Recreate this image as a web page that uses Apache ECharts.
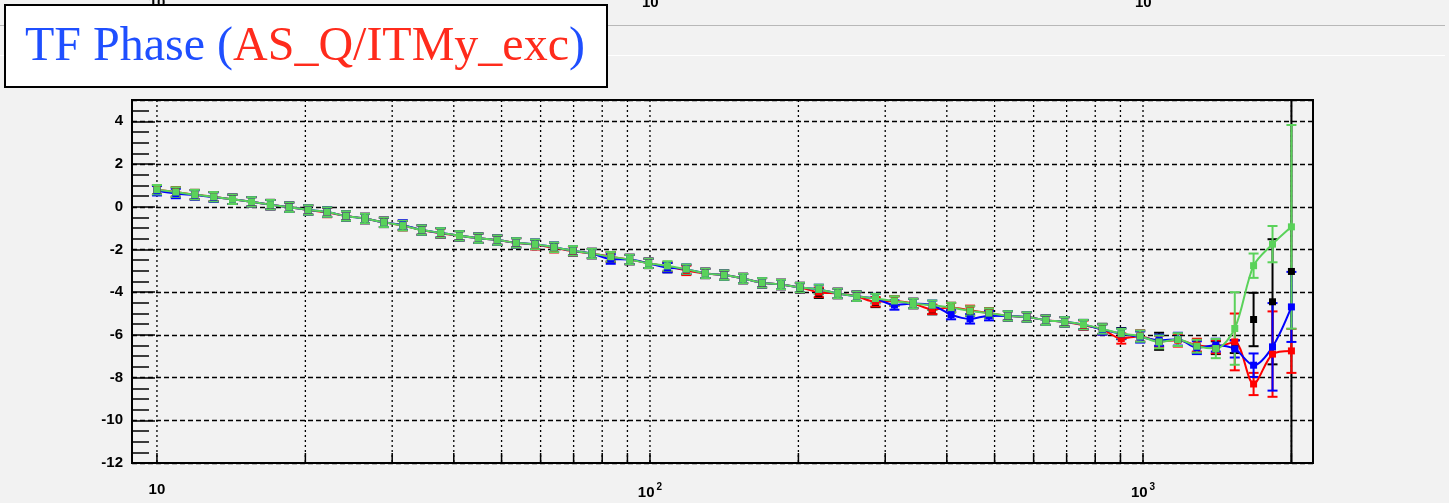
<!DOCTYPE html>
<html>
<head>
<meta charset="utf-8">
<title>TF Phase</title>
<script src="https://cdn.jsdelivr.net/npm/echarts@6/dist/echarts.min.js"></script>
<style>
html, body { margin: 0; padding: 0; background: #f2f2f2; }
#chart { width: 1449px; height: 503px; }
</style>
</head>
<body>
<div id="chart"></div>
<script>
// frequency points (Hz), log spaced
var freqs = [10.0, 10.92, 11.93, 13.03, 14.23, 15.55, 16.99, 18.55, 20.27, 22.14,
  24.18, 26.42, 28.86, 31.52, 34.43, 37.61, 41.08, 44.87, 49.02, 53.54,
  58.48, 63.89, 69.79, 76.22, 83.26, 90.94, 99.34, 108.5, 118.5, 129.5,
  141.4, 154.5, 168.8, 184.4, 201.4, 220.0, 240.3, 262.5, 286.7, 313.2,
  342.0, 373.7, 408.1, 445.9, 487.1, 532.0, 581.1, 634.8, 693.4, 757.3,
  827.1, 903.5, 986.8, 1078, 1177, 1286, 1405, 1535, 1676, 1831, 2000];

var phaseBlack = [0.80, 0.69, 0.57, 0.47, 0.35, 0.23, 0.10, -0.02, -0.15, -0.25,
  -0.43, -0.55, -0.73, -0.88, -1.09, -1.22, -1.36, -1.47, -1.56, -1.69,
  -1.76, -1.90, -2.06, -2.19, -2.36, -2.47, -2.65, -2.85, -2.94, -3.12,
  -3.20, -3.36, -3.56, -3.64, -3.80, -4.05, -4.06, -4.19, -4.48, -4.41,
  -4.53, -4.82, -4.72, -4.88, -4.98, -5.11, -5.16, -5.31, -5.39, -5.52,
  -5.72, -5.94, -6.06, -6.30, -6.22, -6.53, -6.60, -6.55, -5.28, -4.45, -3.03];
var phaseRed = [0.80, 0.69, 0.57, 0.47, 0.35, 0.23, 0.10, -0.02, -0.15, -0.27,
  -0.43, -0.55, -0.73, -0.88, -1.09, -1.24, -1.36, -1.47, -1.56, -1.69,
  -1.78, -1.92, -2.08, -2.19, -2.34, -2.47, -2.65, -2.80, -2.98, -3.12,
  -3.20, -3.36, -3.56, -3.64, -3.78, -4.00, -4.06, -4.19, -4.45, -4.41,
  -4.53, -4.80, -4.72, -4.85, -4.98, -5.11, -5.16, -5.31, -5.39, -5.55,
  -5.74, -6.17, -6.06, -6.30, -6.25, -6.48, -6.56, -6.33, -8.30, -6.90, -6.75];
var phaseBlue = [0.75, 0.62, 0.55, 0.45, 0.35, 0.23, 0.10, -0.02, -0.15, -0.25,
  -0.43, -0.55, -0.73, -0.85, -1.09, -1.22, -1.36, -1.47, -1.56, -1.69,
  -1.76, -1.90, -2.06, -2.19, -2.45, -2.47, -2.65, -2.85, -2.92, -3.12,
  -3.20, -3.36, -3.56, -3.64, -3.78, -3.87, -4.06, -4.19, -4.30, -4.60,
  -4.53, -4.61, -5.05, -5.25, -5.10, -5.11, -5.16, -5.31, -5.39, -5.52,
  -5.75, -5.95, -6.10, -6.25, -6.20, -6.60, -6.48, -6.66, -7.42, -6.56, -4.69];
var phaseGreen = [0.80, 0.69, 0.57, 0.47, 0.35, 0.23, 0.10, -0.02, -0.15, -0.25,
  -0.43, -0.55, -0.73, -0.88, -1.09, -1.22, -1.36, -1.47, -1.56, -1.69,
  -1.76, -1.90, -2.06, -2.19, -2.34, -2.47, -2.65, -2.77, -2.92, -3.12,
  -3.20, -3.36, -3.56, -3.64, -3.78, -3.87, -4.06, -4.19, -4.30, -4.41,
  -4.53, -4.61, -4.72, -4.88, -4.98, -5.11, -5.16, -5.31, -5.39, -5.52,
  -5.72, -5.94, -6.06, -6.33, -6.22, -6.53, -6.64, -5.70, -2.76, -1.75, -0.94];

var errBlack = [0.22, 0.22, 0.22, 0.22, 0.22, 0.22, 0.22, 0.22, 0.22, 0.22,
  0.22, 0.22, 0.22, 0.22, 0.22, 0.22, 0.22, 0.22, 0.22, 0.22,
  0.22, 0.22, 0.22, 0.22, 0.22, 0.22, 0.22, 0.22, 0.22, 0.22,
  0.22, 0.22, 0.22, 0.22, 0.22, 0.22, 0.22, 0.22, 0.22, 0.22,
  0.22, 0.22, 0.22, 0.22, 0.22, 0.22, 0.22, 0.22, 0.22, 0.22,
  0.24, 0.26, 0.26, 0.40, 0.30, 0.30, 0.30, 0.30, 1.25, 2.93, 25];
var errRed = [0.22, 0.22, 0.22, 0.22, 0.22, 0.22, 0.22, 0.22, 0.22, 0.22,
  0.22, 0.22, 0.22, 0.22, 0.22, 0.22, 0.22, 0.22, 0.22, 0.22,
  0.22, 0.22, 0.22, 0.22, 0.22, 0.22, 0.22, 0.22, 0.22, 0.22,
  0.22, 0.22, 0.22, 0.22, 0.22, 0.22, 0.22, 0.22, 0.22, 0.22,
  0.22, 0.22, 0.22, 0.22, 0.22, 0.22, 0.22, 0.22, 0.22, 0.22,
  0.24, 0.24, 0.26, 0.26, 0.30, 0.30, 0.30, 1.33, 0.52, 2.00, 1.03];
var errBlue = [0.22, 0.22, 0.22, 0.22, 0.22, 0.22, 0.22, 0.22, 0.22, 0.22,
  0.22, 0.22, 0.22, 0.22, 0.22, 0.22, 0.22, 0.22, 0.22, 0.22,
  0.22, 0.22, 0.22, 0.22, 0.22, 0.22, 0.22, 0.22, 0.22, 0.22,
  0.22, 0.22, 0.22, 0.22, 0.22, 0.22, 0.22, 0.22, 0.22, 0.22,
  0.22, 0.22, 0.22, 0.22, 0.22, 0.22, 0.22, 0.22, 0.22, 0.22,
  0.24, 0.24, 0.26, 0.26, 0.30, 0.30, 0.30, 0.40, 0.55, 2.05, 1.64];
var errGreen = [0.22, 0.22, 0.22, 0.22, 0.22, 0.22, 0.22, 0.22, 0.22, 0.22,
  0.22, 0.22, 0.22, 0.22, 0.22, 0.22, 0.22, 0.22, 0.22, 0.22,
  0.22, 0.22, 0.22, 0.22, 0.22, 0.22, 0.22, 0.22, 0.22, 0.22,
  0.22, 0.22, 0.22, 0.22, 0.22, 0.22, 0.22, 0.22, 0.22, 0.22,
  0.22, 0.22, 0.22, 0.22, 0.22, 0.22, 0.22, 0.22, 0.22, 0.22,
  0.22, 0.22, 0.26, 0.30, 0.30, 0.30, 0.45, 1.70, 0.57, 0.85, 4.77];

// vertical grid lines of the log axis
var gridX = [10, 20, 30, 40, 50, 60, 70, 80, 90, 100, 200, 300, 400, 500, 600, 700, 800, 900, 1000, 2000];

var chart = echarts.init(document.getElementById('chart'));

var sans = 'Liberation Sans, Arial, sans-serif';
var serif = 'Liberation Serif, Times New Roman, serif';

function decadeLabel(v) {
  var p = Math.round(Math.log10(v));
  if (p <= 1) return '{b|10}';
  return '{b|10}{s|' + p + '}';
}
var labelRich = {
  b: { fontFamily: sans, fontWeight: 'bold', fontSize: 15, color: '#000' },
  s: { fontFamily: sans, fontWeight: 'bold', fontSize: 10, color: '#000', padding: [0, 0, 12, 2] }
};

function errorSeries(color, vals, errs) {
  return {
    type: 'custom',
    clip: true,
    data: freqs.map(function (f, i) { return [f, vals[i] - errs[i], vals[i] + errs[i]]; }),
    encode: { x: 0, y: [1, 2] },
    renderItem: function (params, api) {
      var lo = api.coord([api.value(0), api.value(1)]);
      var hi = api.coord([api.value(0), api.value(2)]);
      var w = 5;
      var st = { stroke: color, lineWidth: 2 };
      return {
        type: 'group',
        children: [
          { type: 'line', shape: { x1: lo[0], y1: lo[1], x2: hi[0], y2: hi[1] }, style: st },
          { type: 'line', shape: { x1: lo[0] - w, y1: lo[1], x2: lo[0] + w, y2: lo[1] }, style: st },
          { type: 'line', shape: { x1: hi[0] - w, y1: hi[1], x2: hi[0] + w, y2: hi[1] }, style: st }
        ]
      };
    }
  };
}

function lineSeries(color, vals, showLine) {
  return {
    type: 'line',
    data: freqs.map(function (f, i) { return [f, vals[i]]; }),
    smooth: 0.3,
    symbol: 'rect',
    symbolSize: 7,
    clip: true,
    lineStyle: { color: color, width: 2, opacity: showLine ? 1 : 0 },
    itemStyle: { color: color },
    animation: false
  };
}

var cBlack = '#000000', cRed = '#ff0000', cBlue = '#0000ff', cGreen = '#5ad25a';

chart.setOption({
  backgroundColor: '#f2f2f2',
  animation: false,
  grid: { left: 132, top: 100, width: 1181, height: 363, show: true, borderColor: '#000', borderWidth: 2, backgroundColor: 'transparent' },
  xAxis: {
    type: 'log',
    logBase: 10,
    min: 8.9,
    max: 2212,
    axisLine: { show: true, onZero: false, lineStyle: { color: '#000', width: 2 } },
    axisTick: { show: false },
    splitLine: { show: false },
    axisLabel: {
      margin: 19,
      formatter: function (v) {
        var lg = Math.log10(v);
        if (Math.abs(lg - Math.round(lg)) > 1e-6) return '';
        return decadeLabel(v);
      },
      rich: labelRich
    }
  },
  yAxis: {
    type: 'value',
    min: -12,
    max: 5,
    interval: 2,
    axisLine: { show: true, lineStyle: { color: '#000', width: 2 } },
    axisTick: { show: true, inside: true, length: 23, lineStyle: { color: '#000', width: 1.5 } },
    minorTick: { show: true, splitNumber: 4, length: 17, lineStyle: { color: '#000', width: 1.5 } },
    splitLine: { show: true, lineStyle: { color: '#000', width: 1.3, type: [5, 3] } },
    axisLabel: { showMaxLabel: false, margin: 9, fontFamily: sans, fontWeight: 'bold', fontSize: 15, color: '#000' }
  },
  graphic: [
    { type: 'rect', shape: { x: 0, y: 25, width: 1445, height: 1 }, style: { fill: '#b8b8b8' }, z: 1 },
    { type: 'rect', shape: { x: 0, y: 55, width: 1445, height: 1 }, style: { fill: '#ffffff' }, z: 1 },
    { type: 'text', x: 157, y: 3, z: 1, style: { text: decadeLabel(10), rich: labelRich, align: 'center', verticalAlign: 'middle' } },
    { type: 'text', x: 654, y: 3, z: 1, style: { text: decadeLabel(100), rich: labelRich, align: 'center', verticalAlign: 'middle' } },
    { type: 'text', x: 1147, y: 3, z: 1, style: { text: decadeLabel(1000), rich: labelRich, align: 'center', verticalAlign: 'middle' } },
    { type: 'rect', shape: { x: 5, y: 5, width: 602, height: 82 }, style: { fill: '#ffffff', stroke: '#000', lineWidth: 2 }, z: 10 },
    {
      type: 'text', x: 305, y: 47, z: 11,
      style: {
        text: '{b|TF Phase (}{r|AS_Q/ITMy_exc}{b|)}',
        align: 'center', verticalAlign: 'middle',
        rich: {
          b: { fontFamily: serif, fontSize: 48, fill: '#1f4fff' },
          r: { fontFamily: serif, fontSize: 48, fill: '#ff2b1c' }
        }
      }
    }
  ],
  series: [
    {
      type: 'custom',
      clip: true,
      z: 1,
      data: gridX.map(function (v) { return [v]; }),
      encode: { x: 0 },
      renderItem: function (params, api) {
        var v = api.value(0);
        var top = api.coord([v, 5]);
        var bot = api.coord([v, -12]);
        return {
          type: 'group',
          children: [
            { type: 'line', shape: { x1: top[0], y1: top[1], x2: bot[0], y2: bot[1] }, style: { stroke: '#000', lineWidth: 1.3, lineDash: [2, 3] } },
            { type: 'line', shape: { x1: bot[0], y1: bot[1], x2: bot[0], y2: bot[1] - 10 }, style: { stroke: '#000', lineWidth: 1.5 } }
          ]
        };
      }
    },
    errorSeries(cBlack, phaseBlack, errBlack),
    lineSeries(cBlack, phaseBlack, false),
    errorSeries(cRed, phaseRed, errRed),
    lineSeries(cRed, phaseRed, true),
    errorSeries(cBlue, phaseBlue, errBlue),
    lineSeries(cBlue, phaseBlue, true),
    errorSeries(cGreen, phaseGreen, errGreen),
    lineSeries(cGreen, phaseGreen, true)
  ]
});
</script>
</body>
</html>
